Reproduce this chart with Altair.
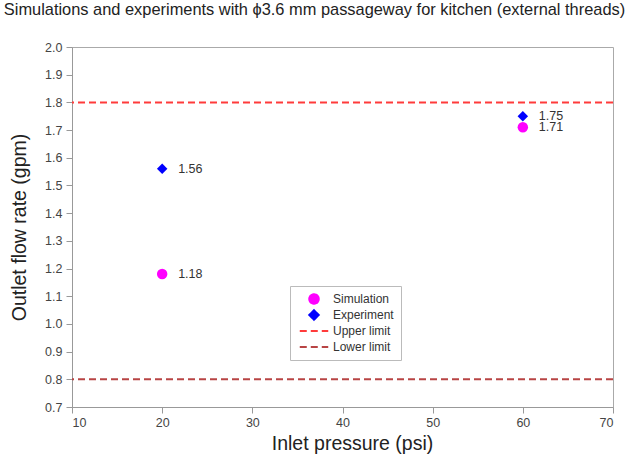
import altair as alt
import pandas as pd

series_names = ["Simulation", "Experiment", "Upper limit", "Lower limit"]
series_colors = ["#ff00ff", "#0000ff", "#ff3b3b", "#b84444"]
dash_symbol = "M-3,0L3,0"
series_shapes = ["circle", "diamond", dash_symbol, dash_symbol]

pressure = [20, 60]
simulation = [1.18, 1.71]
experiment = [1.56, 1.75]
upper_limit = 1.8
lower_limit = 0.8

x_ticks = [10, 20, 30, 40, 50, 60, 70]
y_ticks = [0.7, 0.8, 0.9, 1.0, 1.1, 1.2, 1.3, 1.4, 1.5, 1.6, 1.7, 1.8, 1.9, 2.0]

pts = pd.DataFrame({
    "series": ["Simulation"] * len(pressure) + ["Experiment"] * len(pressure),
    "x": pressure + pressure,
    "y": simulation + experiment,
})
pts["label"] = pts["y"].map(lambda v: f"{v:.2f}")

lims = pd.DataFrame({"series": ["Upper limit", "Lower limit"], "y": [upper_limit, lower_limit]})

legend = alt.Legend(
    orient="none", legendX=218, legendY=239,
    strokeColor="#bbbbbb", fillColor="white", padding=7,
    labelFont="Liberation Sans", labelFontSize=12, labelColor="#333333",
    symbolStrokeWidth=2, symbolSize=90, rowPadding=-2, gridAlign="all",
    symbolOffset=11, labelOffset=13, symbolOpacity=1,
)

color = alt.Color("series:N", title=None,
                  scale=alt.Scale(domain=series_names, range=series_colors),
                  legend=legend)
xs = alt.Scale(domain=[10, 70], nice=False, zero=False)
ys = alt.Scale(domain=[0.7, 2.0], nice=False, zero=False)
x_axis = alt.Axis(values=x_ticks, format="d", labelOverlap=False, titleX=280)
y_axis = alt.Axis(values=y_ticks, format=".1f", labelOverlap=False)

rules = alt.Chart(lims).mark_rule(strokeWidth=2).encode(
    y=alt.Y("y:Q", scale=ys, title="Outlet flow rate (gpm)", axis=y_axis),
    color=color,
    strokeDash=alt.StrokeDash("series:N", title=None,
                              scale=alt.Scale(domain=series_names,
                                              range=[[1, 0], [1, 0], [7, 4], [7, 4]])),
)

points = alt.Chart(pts).mark_point(filled=True, opacity=1, size=110).encode(
    x=alt.X("x:Q", scale=xs, title="Inlet pressure (psi)", axis=x_axis),
    y=alt.Y("y:Q", scale=ys, title="Outlet flow rate (gpm)", axis=y_axis),
    color=color,
    shape=alt.Shape("series:N", title=None,
                    scale=alt.Scale(domain=series_names, range=series_shapes)),
)

labels = alt.Chart(pts).mark_text(align="left", dx=16, fontSize=12.5,
                                  font="Liberation Sans", color="#333333").encode(
    x=alt.X("x:Q", scale=xs, title="Inlet pressure (psi)", axis=x_axis),
    y=alt.Y("y:Q", scale=ys, title="Outlet flow rate (gpm)", axis=y_axis),
    text="label:N",
)

chart = alt.layer(rules, points, labels).properties(
    width=541, height=360,
    padding={"left": 72, "top": 47, "right": 17, "bottom": 52},
    autosize=alt.AutoSizeParams(type="none"),
    title=alt.Title("Simulations and experiments with \u03d53.6 mm passageway for kitchen (external threads)",
                    anchor="middle", dx=-28, offset=23, fontSize=16.4, fontWeight="normal",
                    font="Liberation Sans", color="#222222"),
).configure_view(stroke="#aaaaaa", strokeWidth=1).configure_axis(
    grid=False, domainColor="#999999", tickColor="#999999", tickSize=6,
    labelOverlap=False,
    labelFont="Liberation Sans", labelFontSize=12.5, labelColor="#444444",
    titleFont="Liberation Sans", titleFontSize=19.5, titleFontWeight="normal",
    titleColor="#222222",
).configure_axisY(titlePadding=15, labelPadding=4).configure_axisX(titlePadding=6, labelPadding=3)

chart.save("out.html", embed_options={"renderer": "svg", "actions": False})
